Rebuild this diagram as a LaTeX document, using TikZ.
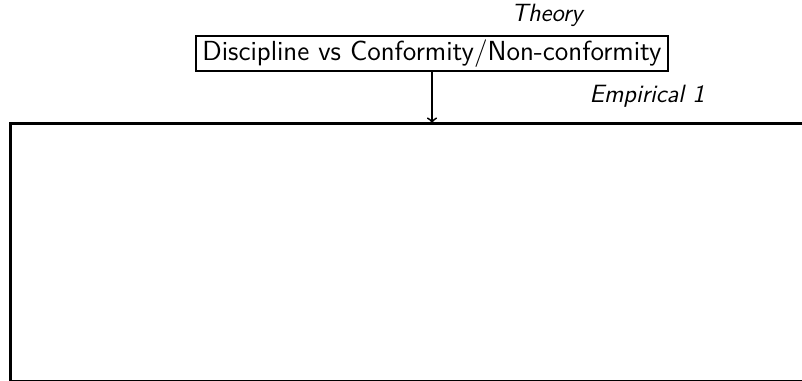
\documentclass[tikz,border=0pt]{standalone}
\usepackage{tikz}
\usetikzlibrary{positioning}
\renewcommand{\familydefault}{\sfdefault}

\begin{document}
\begin{tikzpicture}[x=0.5pt,y=-0.5pt]
    \useasboundingbox (0,0) rectangle (802,380);

    \node [draw, line width=1pt, inner xsep=3.3pt, inner ysep=2pt, font=\fontsize{13.8}{15}\selectfont,
           minimum height=16.5pt] (theory) at (432,53.5) {Discipline vs Conformity/Non-conformity};
    \node [font=\itshape\fontsize{12.5}{14}\selectfont, anchor=south east, inner sep=1pt] (thlabel) at (585,29) {Theory};

    \coordinate (etop) at (432,123);
    \draw[line width=1.5pt] (10,123) rectangle (812,381.5);
    \node [font=\itshape\fontsize{12.5}{14}\selectfont, anchor=south east, inner sep=1pt] (emplabel) at (707,110) {Empirical 1};

    \draw[->, line width=0.9pt] (theory) -- (etop);
\end{tikzpicture}
\end{document}
